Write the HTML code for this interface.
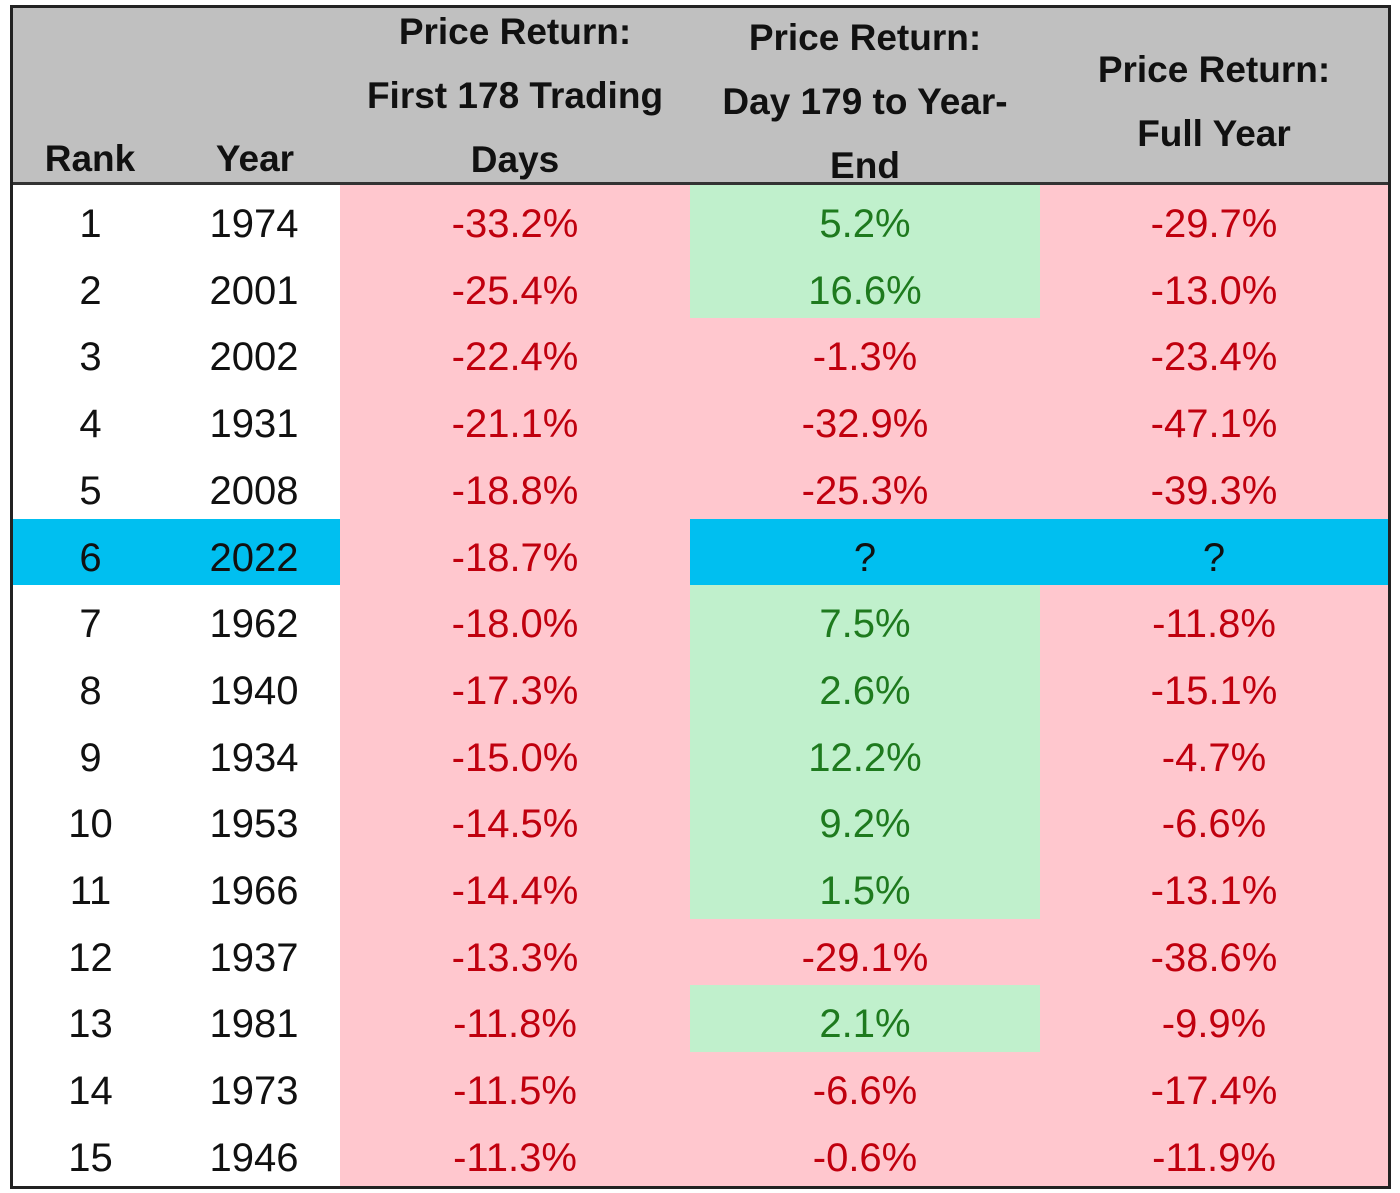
<!DOCTYPE html>
<html><head><meta charset="utf-8"><style>
body{margin:0;width:1400px;height:1193px;background:#fff;position:relative;overflow:hidden;font-family:"Liberation Sans",sans-serif}
.abs{position:absolute}
.h{position:absolute;font-weight:bold;font-size:37px;color:#111;text-align:center;white-space:nowrap;line-height:64px}
.c{position:absolute;font-size:40px;text-align:center;line-height:66px;white-space:nowrap}
</style></head><body>
<div class="abs" style="left:10px;top:5px;width:1375px;height:1178px;border:3px solid #222;"></div>
<div class="abs" style="left:13px;top:8px;width:1375px;height:174px;background:#c0c0c0"></div>
<div class="abs" style="left:13px;top:182px;width:1375px;height:3px;background:#333"></div>
<div class="h" style="left:20px;width:140px;top:127px">Rank</div>
<div class="h" style="left:185px;width:140px;top:127px">Year</div>
<div class="h" style="left:340px;width:350px;top:0px">Price Return:<br>First 178 Trading<br>Days</div>
<div class="h" style="left:690px;width:350px;top:6px">Price Return:<br>Day 179 to Year-<br>End</div>
<div class="h" style="left:1040px;width:348px;top:38px">Price Return:<br>Full Year</div>
<div id="rows"></div>
<script>
const ranks=[1,2,3,4,5,6,7,8,9,10,11,12,13,14,15];
const years=[1974,2001,2002,1931,2008,2022,1962,1940,1934,1953,1966,1937,1981,1973,1946];
const first178=[-33.2,-25.4,-22.4,-21.1,-18.8,-18.7,-18.0,-17.3,-15.0,-14.5,-14.4,-13.3,-11.8,-11.5,-11.3];
const rest=[5.2,16.6,-1.3,-32.9,-25.3,null,7.5,2.6,12.2,9.2,1.5,-29.1,2.1,-6.6,-0.6];
const full=[-29.7,-13.0,-23.4,-47.1,-39.3,null,-11.8,-15.1,-4.7,-6.6,-13.1,-38.6,-9.9,-17.4,-11.9];
const cont=document.getElementById('rows');
const top0=185,rh=66.7;
function fmt(v){return v==null?'?':v.toFixed(1)+'%';}
function cell(x,w,y,bg,txt,color,name){
  const d=document.createElement('div');
  d.className='c';
  
  
  d.style.left=x+'px';d.style.width=w+'px';d.style.top=y+'px';d.style.height=(rh+0.5)+'px';
  d.style.background=bg;d.style.color=color;d.style.paddingTop='6px';d.style.boxSizing='border-box';
  d.textContent=txt;cont.appendChild(d);return d;
}
const PINK='#ffc7ce',RED='#c0000e',GREEN='#c0f0cc',GTXT='#1e7a1e',BLUE='#00bff0';
ranks.forEach((r,i)=>{
  const y=top0+i*rh;
  const hl=rest[i]==null;
  const bg0=hl?BLUE:'#fff';
  cell(13,155,y,bg0,String(r),'#111','rank-cell');
  cell(168,172,y,bg0,String(years[i]),'#111','year-cell');
  cell(340,350,y,PINK,fmt(first178[i]),RED,'first-178-cell');
  const v=rest[i];
  cell(690,350,y,v==null?BLUE:(v>=0?GREEN:PINK),fmt(v),v==null?'#111':(v>=0?GTXT:RED),'day-179-cell');
  const f=full[i];
  cell(1040,348,y,f==null?BLUE:(f>=0?GREEN:PINK),fmt(f),f==null?'#111':(f>=0?GTXT:RED),'full-year-cell');
});
</script>
</body></html>
